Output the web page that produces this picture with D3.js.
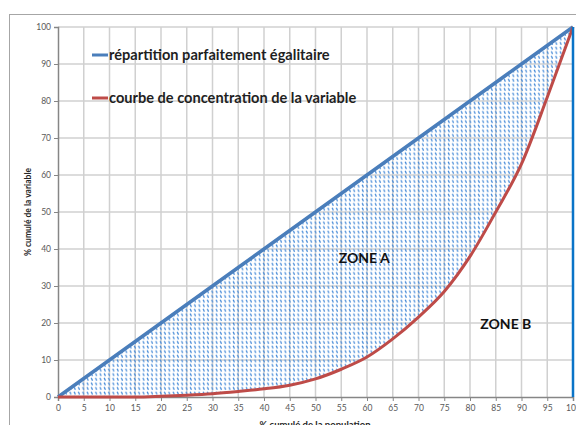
<!DOCTYPE html>
<html>
<head>
<meta charset="utf-8">
<script src="https://cdn.jsdelivr.net/npm/d3@7"></script>
<style>
  body { margin: 0; background: #fff; }
  svg { display: block; }
</style>
</head>
<body>
<script>
// % cumulé de la population
var population = [0, 5, 10, 15, 20, 25, 30, 35, 40, 45, 50, 55, 60, 65, 70, 75, 80, 85, 90, 95, 100];
// courbe de concentration
var concentration = [0, 0, 0, 0, 0.2, 0.5, 0.9, 1.5, 2.2, 3.2, 4.9, 7.5, 10.8, 15.7, 21.6, 28.5, 38, 50, 63, 81, 100];
// répartition parfaitement égalitaire
var egalitaire = population.slice();

var xTicks = d3.range(0, 101, 5);
var yTicks = d3.range(0, 101, 10);

var seriesNames = ["répartition parfaitement égalitaire", "courbe de concentration de la variable"];
var seriesColors = ["#4a7ebb", "#be4b48"];

var W = 576, H = 425;
var margin = {left: 58, right: 3, top: 27, bottom: 28};

var svg = d3.select("body").append("svg")
  .attr("width", W)
  .attr("height", H);

// frame of the chart
svg.append("rect")
  .attr("x", 9.5).attr("y", 14.5)
  .attr("width", W + 20).attr("height", H + 20)
  .attr("fill", "none")
  .attr("stroke", "#a6a6a6");

var xScale = d3.scaleLinear().domain([0, 100]).range([margin.left, W - margin.right]);
var yScale = d3.scaleLinear().domain([0, 100]).range([H - margin.bottom, margin.top]);

var defs = svg.append("defs");
var pat = defs.append("pattern")
  .attr("id", "hatch")
  .attr("patternUnits", "userSpaceOnUse")
  .attr("width", 4.3).attr("height", 4.6);
pat.append("line")
  .attr("x1", 1).attr("y1", 0.6)
  .attr("x2", 2.2).attr("y2", 3.4)
  .attr("stroke", "#3f86d6")
  .attr("stroke-width", 1.2);

// grid
svg.append("g").selectAll("line")
  .data(xTicks.filter(function(d){ return d > 0 && d < 100; }))
  .enter().append("line")
  .attr("x1", function(d){ return xScale(d); })
  .attr("x2", function(d){ return xScale(d); })
  .attr("y1", yScale(0)).attr("y2", yScale(100))
  .attr("stroke", "#d0d0d0").attr("stroke-width", 1.5);

svg.append("g").selectAll("line")
  .data(yTicks.filter(function(d){ return d > 0; }))
  .enter().append("line")
  .attr("x1", xScale(0)).attr("x2", xScale(100))
  .attr("y1", function(d){ return yScale(d); })
  .attr("y2", function(d){ return yScale(d); })
  .attr("stroke", "#d0d0d0").attr("stroke-width", 1.5);

// zone A hatching
var area = d3.area()
  .x(function(d,i){ return xScale(population[i]); })
  .y0(function(d,i){ return yScale(concentration[i]); })
  .y1(function(d){ return yScale(d); })
  .curve(d3.curveMonotoneX);

svg.append("path")
  .datum(egalitaire)
  .attr("d", area)
  .attr("fill", "url(#hatch)");

// axes
var xAxis = svg.append("g")
  .attr("transform", "translate(0," + yScale(0) + ")")
  .call(d3.axisBottom(xScale).tickValues(xTicks).tickSize(4).tickPadding(4).tickFormat(d3.format("d")));
var yAxis = svg.append("g")
  .attr("transform", "translate(" + xScale(0) + ",0)")
  .call(d3.axisLeft(yScale).tickValues(yTicks).tickSize(4).tickPadding(3).tickFormat(d3.format("d")));

[xAxis, yAxis].forEach(function(a){
  a.select(".domain").attr("stroke", "#868686").attr("stroke-width", 1.5);
  a.selectAll(".tick line").attr("stroke", "#868686");
  a.selectAll("text")
    .attr("fill", "#595959")
    .style("font-family", "Lato, 'Open Sans', sans-serif")
    .style("font-size", "8.5px");
});

// lines
var line = d3.line()
  .x(function(d,i){ return xScale(population[i]); })
  .y(function(d){ return yScale(d); });

svg.append("path")
  .datum(egalitaire)
  .attr("d", line)
  .attr("fill", "none")
  .attr("stroke", seriesColors[0])
  .attr("stroke-width", 3.5);

svg.append("path")
  .datum(concentration)
  .attr("d", line.curve(d3.curveMonotoneX))
  .attr("fill", "none")
  .attr("stroke", seriesColors[1])
  .attr("stroke-width", 3);

// vertical line at 100
svg.append("line")
  .attr("x1", xScale(100)).attr("x2", xScale(100))
  .attr("y1", yScale(0)).attr("y2", yScale(100))
  .attr("stroke", "#0a74c8")
  .attr("stroke-width", 2.5);

// legend
var legend = svg.append("g").attr("transform", "translate(92,55)");
legend.selectAll("line")
  .data(seriesColors)
  .enter().append("line")
  .attr("x1", 0).attr("x2", 16)
  .attr("y1", function(d,i){ return i * 43; })
  .attr("y2", function(d,i){ return i * 43; })
  .attr("stroke", function(d){ return d; })
  .attr("stroke-width", 3);
legend.selectAll("text")
  .data(seriesNames)
  .enter().append("text")
  .attr("x", 17)
  .attr("y", function(d,i){ return i * 43 + 5; })
  .text(function(d){ return d; })
  .style("font-family", "Lato, sans-serif")
  .style("font-size", "14.6px")
  .style("font-weight", "bold")
  .attr("fill", "#1f1f1f");

// zone labels
svg.append("text")
  .attr("x", xScale(54.5)).attr("y", yScale(36.2))
  .text("ZONE A")
  .style("font-family", "Lato, sans-serif")
  .style("font-size", "14px")
  .style("font-weight", "bold")
  .attr("fill", "#111");
svg.append("text")
  .attr("x", xScale(82)).attr("y", yScale(18.5))
  .text("ZONE B")
  .style("font-family", "Lato, sans-serif")
  .style("font-size", "14px")
  .style("font-weight", "bold")
  .attr("fill", "#111");

// axis titles
svg.append("text")
  .attr("transform", "translate(31," + yScale(50) + ") rotate(-90)")
  .attr("text-anchor", "middle")
  .text("% cumulé de la variable")
  .style("font-family", "Lato, sans-serif")
  .style("font-size", "8.5px")
  .style("font-weight", "bold")
  .attr("fill", "#262626");
svg.append("text")
  .attr("x", 315).attr("y", 428)
  .attr("text-anchor", "middle")
  .text("% cumulé de la population")
  .style("font-family", "Lato, sans-serif")
  .style("font-size", "9.5px")
  .style("font-weight", "bold")
  .attr("fill", "#262626");
</script>
</body>
</html>
